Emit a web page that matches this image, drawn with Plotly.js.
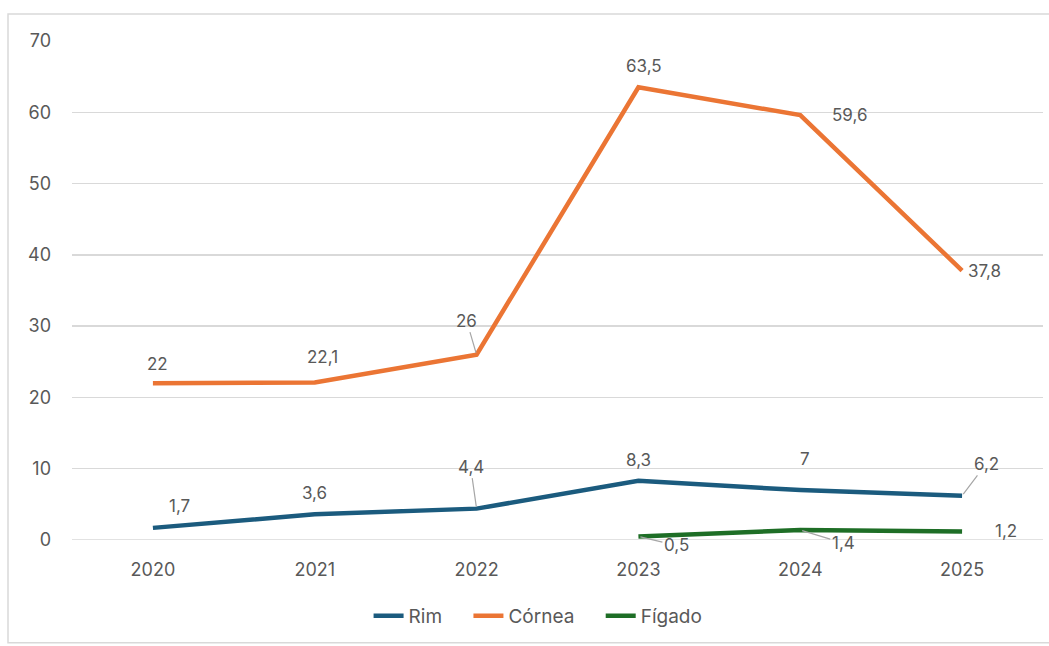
<!DOCTYPE html>
<html>
<head>
<meta charset="utf-8">
<script src="https://cdn.plot.ly/plotly-3.0.1.min.js"></script>
<style>html,body{margin:0;padding:0;background:#fff;}#chart{width:1049px;height:646px;}</style>
</head>
<body>
<div id="chart"></div>
<script>
const years = ['2020','2021','2022','2023','2024','2025'];
const rim = [1.7, 3.6, 4.4, 8.3, 7, 6.2];
const cornea = [22, 22.1, 26, 63.5, 59.6, 37.8];
const figado = [null, null, null, 0.5, 1.4, 1.2];
const seriesNames = ['Rim', 'Córnea', 'Fígado'];
const colors = ['#1b5b7e', '#eb7534', '#1e6e26'];

// label offsets in pixels [dx, dy, leader]
const rimLab = [[27,-22,false],[0,-21,false],[-6,-42,true],[0,-21,false],[5,-31,false],[24,-32,true]];
const corLab = [[5,-19,false],[8,-25,false],[-10,-34,true],[6,-21,false],[49,0,false],[22,0,false]];
const figLab = [null,null,null,[38,9,true],[43,13,true],[44,0,false]];

const fmt = v => String(v).replace('.', ',');
const family = 'Inter, "Open Sans", sans-serif';
const labelFont = {family: family, size: 17, color: '#595959'};
const tickFont = {family: family, size: 18, color: '#595959'};
const pad = '\u00a0\u00a0\u00a0\u00a0';

const mk = (y, i) => ({
  x: years, y: y, type: 'scatter', mode: 'lines',
  name: i < 2 ? seriesNames[i] + pad : seriesNames[i],
  line: {color: colors[i], width: 4.5}, connectgaps: false, hoverinfo: 'skip'
});
const data = [mk(rim,0), mk(cornea,1), mk(figado,2)];

const annotations = [];
function addLabels(vals, labs) {
  vals.forEach((v, k) => {
    if (v === null || !labs[k]) return;
    const [dx, dy, leader] = labs[k];
    if (leader) {
      annotations.push({x: k, y: v, xref: 'x', yref: 'y', text: fmt(v), font: labelFont,
        showarrow: true, arrowhead: 0, arrowwidth: 1.2, arrowcolor: '#a6a6a6',
        ax: dx, ay: dy, standoff: 2});
    } else {
      annotations.push({x: k, y: v, xref: 'x', yref: 'y', text: fmt(v), font: labelFont,
        showarrow: false, xshift: dx, yshift: -dy});
    }
  });
}
addLabels(cornea, corLab);
addLabels(rim, rimLab);
addLabels(figado, figLab);

const layout = {
  width: 1049, height: 646,
  margin: {l: 72, r: 6, t: 41, b: 106},
  paper_bgcolor: '#ffffff', plot_bgcolor: '#ffffff',
  font: labelFont,
  showlegend: true,
  legend: {orientation: 'h', x: 0.48, xanchor: 'center', y: -0.152, yanchor: 'middle',
    font: {family: family, size: 19, color: '#595959'}, traceorder: 'normal'},
  xaxis: {type: 'category', range: [-0.5, 5.5], showgrid: false, zeroline: false,
    showline: false, ticks: '', tickfont: tickFont, ticklabelstandoff: 17},
  yaxis: {range: [0, 70], dtick: 10, showgrid: true, gridcolor: '#d9d9d9', gridwidth: 1.5,
    zeroline: false, showline: false, ticks: '', tickfont: tickFont, ticklabelstandoff: 20},
  annotations: annotations,
  shapes: [
    {type: 'line', xref: 'paper', yref: 'y', x0: 0, x1: 1, y0: 0, y1: 0, line: {color: '#d9d9d9', width: 1.5}, layer: 'below'},
    {type: 'rect', xref: 'paper', yref: 'paper', x0: -0.0659, x1: 1.02, y0: -0.206, y1: 1.054,
      line: {color: '#d9d9d9', width: 1.5}}
  ]
};
Plotly.newPlot('chart', data, layout, {displayModeBar: false, staticPlot: true});
</script>
</body>
</html>
